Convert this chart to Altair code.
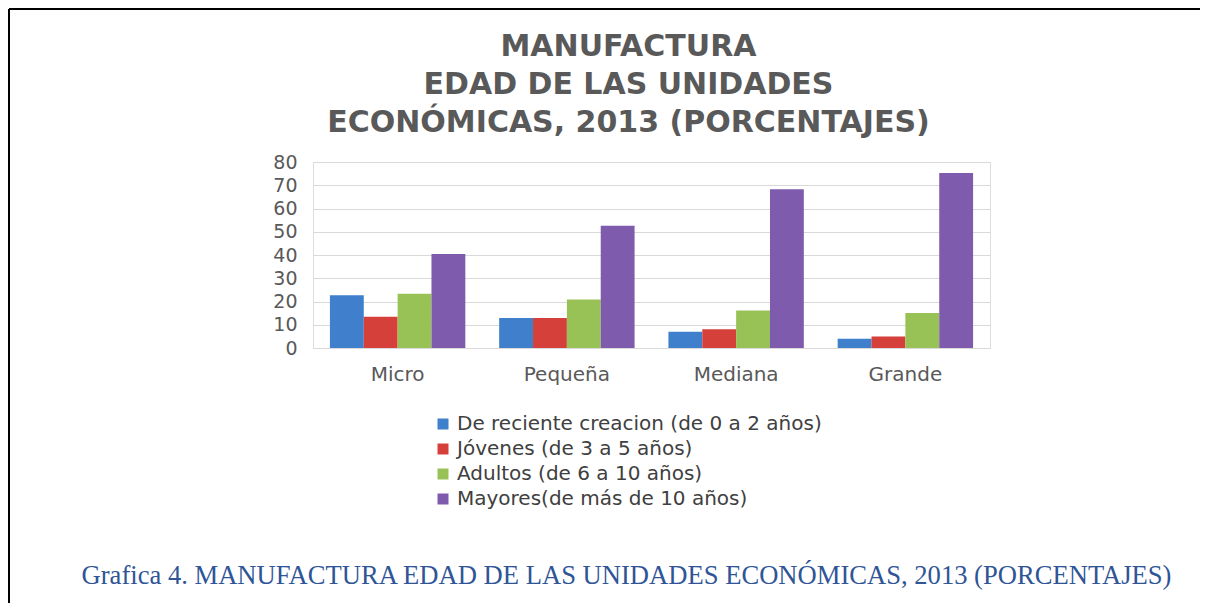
import altair as alt
import pandas as pd

categories = ["Micro", "Pequeña", "Mediana", "Grande"]
series = [
    "De reciente creacion (de 0 a 2 años)",
    "Jóvenes (de 3 a 5 años)",
    "Adultos (de 6 a 10 años)",
    "Mayores(de más de 10 años)",
]
reciente = [22.7, 12.9, 7.0, 4.0]
jovenes = [13.4, 12.9, 8.1, 5.0]
adultos = [23.3, 20.9, 16.1, 15.1]
mayores = [40.4, 52.6, 68.3, 75.3]
colors = ["#3F7FCC", "#D6403A", "#99C256", "#7F5BAE"]
y_ticks = [0, 10, 20, 30, 40, 50, 60, 70, 80]

title_lines = ["MANUFACTURA", "EDAD DE LAS UNIDADES", "ECONÓMICAS, 2013 (PORCENTAJES)"]
caption = "Grafica 4. MANUFACTURA EDAD DE LAS UNIDADES ECONÓMICAS, 2013 (PORCENTAJES)"

rows = []
for s, vals in zip(series, [reciente, jovenes, adultos, mayores]):
    for c, v in zip(categories, vals):
        rows.append({"categoria": c, "serie": s, "valor": v})
df = pd.DataFrame(rows)

W, H = 677, 186
PL, PT = 305, 154
PR = 1192 - PL - W
PB = 595 - PT - H

bars = alt.Chart(df).mark_bar().encode(
    x=alt.X(
        "categoria:N",
        sort=categories,
        scale=alt.Scale(paddingInner=0.2, paddingOuter=0.1),
        axis=alt.Axis(
            title=caption,
            labelAngle=0,
            ticks=False,
            domainColor="#D9D9D9",
            labelFont="DejaVu Sans",
            labelFontSize=20,
            labelColor="#595959",
            labelPadding=16,
            titleFont="Liberation Serif",
            titleFontSize=26.6,
            titleFontWeight="normal",
            titleColor="#2F5597",
            titlePadding=178,
            titleX=313,
            titleAlign="center",
        ),
    ),
    xOffset=alt.XOffset("serie:N", sort=series, scale=alt.Scale(domain=series, paddingInner=0, paddingOuter=0)),
    y=alt.Y(
        "valor:Q",
        scale=alt.Scale(domain=[0, 80], nice=False),
        axis=alt.Axis(
            title=None,
            values=y_ticks,
            ticks=False,
            domain=False,
            gridColor="#D9D9D9",
            labelFont="DejaVu Sans",
            labelFontSize=19,
            labelColor="#595959",
            labelPadding=16,
        ),
    ),
    color=alt.Color(
        "serie:N",
        sort=series,
        scale=alt.Scale(domain=series, range=colors),
        legend=alt.Legend(
            title=None,
            orient="none",
            legendX=120,
            legendY=252,
            padding=0,
            symbolType="square",
            symbolSize=121,
            symbolStrokeWidth=0,
            labelFont="DejaVu Sans",
            labelFontSize=20,
            labelColor="#404040",
            labelOffset=4,
            rowPadding=5,
            labelLimit=600,
        ),
    ),
)

frame_df = pd.DataFrame({"k": [0]})
frame_top = alt.Chart(frame_df).mark_rule(color="#000000", strokeWidth=2).encode(
    x=alt.value(-PL + 1), x2=alt.value(W + PR), y=alt.value(-PT + 1)
)
frame_left = alt.Chart(frame_df).mark_rule(color="#000000", strokeWidth=2).encode(
    x=alt.value(-PL + 1), y=alt.value(-PT + 1), y2=alt.value(H + PB)
)

chart = (
    alt.layer(bars, frame_top, frame_left)
    .properties(
        width=W,
        height=H,
        padding={"left": PL, "top": PT, "right": PR, "bottom": PB},
        autosize=alt.AutoSizeParams(type="none"),
        title=alt.TitleParams(
            text=title_lines,
            font="DejaVu Sans",
            fontSize=30,
            fontWeight="bold",
            color="#595959",
            lineHeight=38,
            anchor="middle",
            dx=-23,
            dy=130,
            offset=0,
        ),
    )
    .configure_view(stroke=None)
    .configure(background="white")
)

chart.save("out.html", embed_options={"renderer": "svg", "actions": False})
